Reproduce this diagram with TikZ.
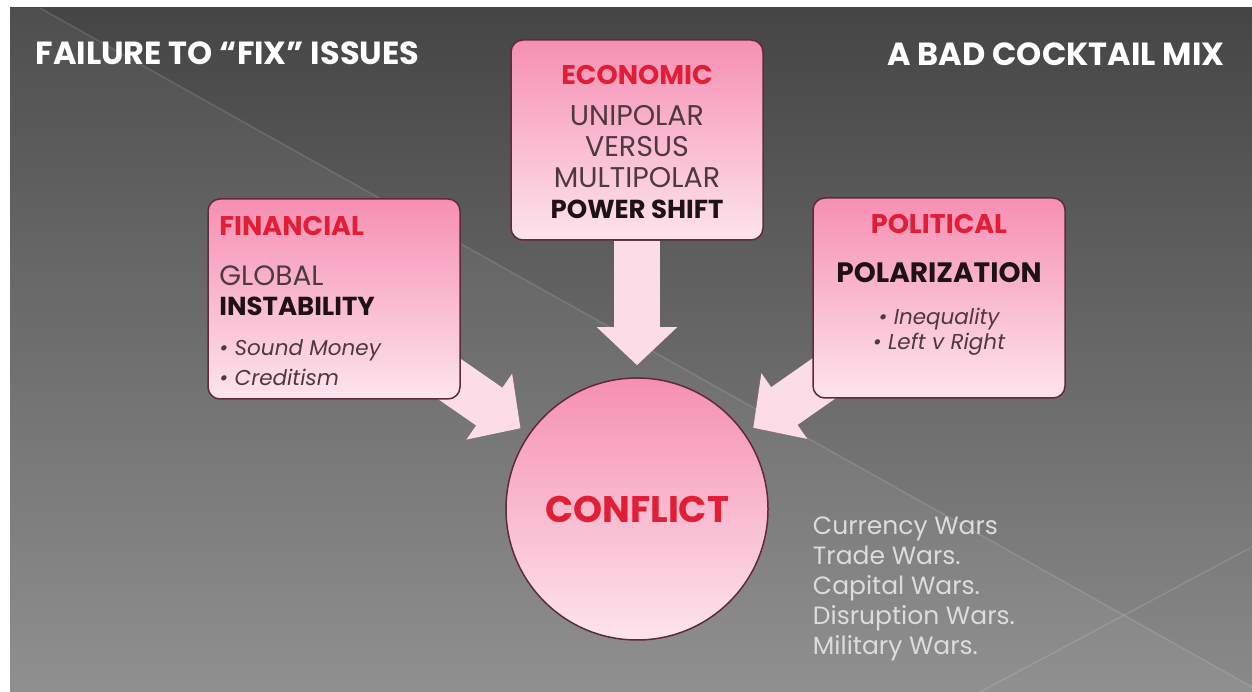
\documentclass[tikz,border=0pt]{standalone}
\usepackage{fontspec}
\setmainfont{Poppins}
\usepackage{tikz}
\usetikzlibrary{arrows.meta, positioning, backgrounds}
\definecolor{slidetop}{HTML}{454545}
\definecolor{slidebot}{HTML}{8A8A8A}
\definecolor{hotred}{HTML}{E01E36}
\definecolor{pinktop}{HTML}{F68FB3}
\definecolor{pinkbot}{HTML}{FDE4ED}
\definecolor{rim}{HTML}{5E2A3C}
\definecolor{plum}{HTML}{4E3842}
\definecolor{inkdark}{HTML}{1E1216}
\definecolor{arrowpink}{HTML}{FCDCE7}
\definecolor{wartext}{HTML}{DCDCDC}

\begin{document}
\begin{tikzpicture}[
    x=1pt, y=1pt,
    box/.style={rectangle, rounded corners=12pt, draw=rim, line width=1.5pt,
        top color=pinktop, bottom color=pinkbot,
        minimum width=252pt, minimum height=200pt},
    hub/.style={circle, draw=rim, line width=1.5pt,
        top color=pinktop, bottom color=pinkbot, minimum size=262pt,
        text=hotred, font=\bfseries\fontsize{37}{40}\selectfont},
    boxtext/.style={inner sep=0pt, text=plum},
    slidetitle/.style={text=white, font=\bfseries\fontsize{32}{36}\selectfont},
    bigarr/.style={line width=46pt, arrowpink, -{Triangle[length=38pt, width=78pt]}}
]
\useasboundingbox (0,0) rectangle (1252,692);

% slide background
\begin{scope}[on background layer]
\fill[white] (0,0) rectangle (1252,692);
\shade[top color=slidetop, bottom color=slidebot] (10,0) rectangle (1252,684);
\fill[white, opacity=0.05] (10,684) -- (40,684) -- (1252,5) -- (1252,0) -- (10,0) -- cycle;
\draw[white, opacity=0.12, line width=1.5pt] (40,684) -- (1252,5);
\draw[white, opacity=0.12, line width=1.5pt] (980,0) -- (1252,145);
\end{scope}

\node[slidetitle, anchor=west] (lefttitle) at (32,639) {FAILURE TO “FIX” ISSUES};
\node[slidetitle, anchor=east] (righttitle) at (1228,638) {A BAD COCKTAIL MIX};

% the three drivers
\node[box] (eco) at (637,552) {};
\node[box] (fin) at (334,393) {};
\node[box] (pol) at (939,394) {};
\node[hub] (conf) at (637,183) {CONFLICT};

\node[boxtext, below=26pt of eco.north, align=center,
    font=\fontsize{28.5}{31}\selectfont] (ecotxt) {%
    {\color{hotred}\bfseries\fontsize{27}{31}\selectfont ECONOMIC}\\[10pt]
    UNIPOLAR\\
    VERSUS\\
    MULTIPOLAR\\
    {\color{inkdark}\bfseries\fontsize{26}{31}\selectfont POWER SHIFT}};
\node[boxtext, below right=18pt and 12pt of fin.north west, align=left,
    font=\fontsize{28}{30}\selectfont] (fintxt) {%
    {\color{hotred}\bfseries\fontsize{27}{30}\selectfont FINANCIAL}\\[20pt]
    GLOBAL\\
    {\color{inkdark}\bfseries\fontsize{26}{30}\selectfont INSTABILITY}\\[10pt]
    {\itshape\fontsize{21.5}{30}\selectfont • Sound Money}\\
    {\itshape\fontsize{21.5}{30}\selectfont • Creditism}};
\node[boxtext, below=17pt of pol.north, align=center,
    font=\fontsize{21.5}{25}\selectfont] (poltxt) {%
    {\color{hotred}\bfseries\fontsize{27}{25}\selectfont POLITICAL}\\[24pt]
    {\color{inkdark}\bfseries\fontsize{28}{25}\selectfont POLARIZATION}\\[17pt]
    {\itshape • Inequality}\\
    {\itshape • Left v Right}};

\node[below right=8pt and 44pt of conf.east, inner sep=0pt, align=left,
    text=wartext, font=\fontsize{25}{30}\selectfont] (wars) {%
    Currency Wars\\
    Trade Wars.\\
    Capital Wars.\\
    Disruption Wars.\\
    Military Wars.};

% block arrows into the hub
\begin{scope}[on background layer]
\draw[bigarr, shorten >=12pt] (eco) -- (conf);
\draw[bigarr, shorten >=10pt] (fin.center) -- (conf);
\draw[bigarr, shorten >=10pt] (pol.center) -- (conf);
\end{scope}
\end{tikzpicture}
\end{document}
